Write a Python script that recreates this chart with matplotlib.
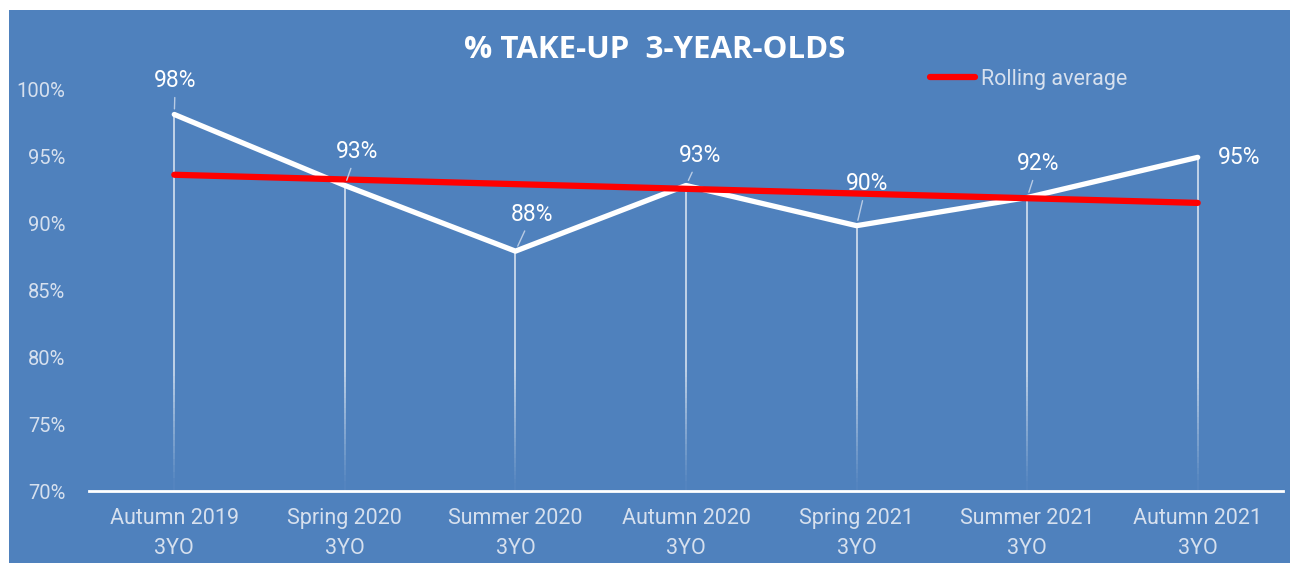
import numpy as np
import matplotlib
matplotlib.use('Agg')
from matplotlib import pyplot as plt
from matplotlib.patches import Rectangle
from matplotlib.collections import LineCollection

# chart data
categories = ['Autumn 2019\n3YO', 'Spring 2020\n3YO', 'Summer 2020\n3YO', 'Autumn 2020\n3YO',
              'Spring 2021\n3YO', 'Summer 2021\n3YO', 'Autumn 2021\n3YO']
take_up = [98.1, 92.8, 87.9, 92.8, 89.8, 91.9, 94.9]
labels = ['98%', '93%', '88%', '93%', '90%', '92%', '95%']
rolling = [93.6, 93.25, 92.9, 92.55, 92.2, 91.85, 91.5]
yticks = [70, 75, 80, 85, 90, 95, 100]

# label offsets in pixels (dx, dy) and whether a leader line is shown
offsets = [(1, 34), (12, 34), (17, 37), (14, 30), (10, 42), (11, 34), (41, 0)]
leaders = [True, True, True, True, True, True, False]

bg = '#4F81BD'
light = '#D6E0EE'
plt.rcParams['font.family'] = ['Roboto', 'DejaVu Sans']

fig = plt.figure(figsize=(12.9, 5.63), dpi=100, facecolor='w')
# blue panel with thin white margin on the left/top
fig.patches.append(Rectangle((9/1290, 0), 1 - 9/1290, 1 - 10/563, transform=fig.transFigure,
                             facecolor=bg, edgecolor='none', zorder=-10))

ax = fig.add_axes([89/1290, 1 - 491/563, (1283 - 89)/1290, (491 - 89)/563])
ax.set_facecolor('none')
x = np.arange(len(categories))

# drop lines, fading out towards the axis
segs, cols = [], []
for xi, v in zip(x, take_up):
    ys = np.linspace(70, v, 60)
    for a, b in zip(ys[:-1], ys[1:]):
        segs.append([(xi, a), (xi, b)])
        alpha = 0.7 * min(1.0, max(0.05, (a - 70) / 9))
        cols.append((1, 1, 1, alpha))
ax.add_collection(LineCollection(segs, colors=cols, linewidths=1.3, zorder=1))

ax.plot(x, take_up, color='white', lw=3.8, solid_joinstyle='round',
        solid_capstyle='round', zorder=3)
ax.plot(x, rolling, color='#FF0000', lw=4.5, solid_capstyle='round', zorder=4,
        label='Rolling average')

for i in range(len(x)):
    dx, dy = offsets[i]
    ap = dict(arrowstyle='-', color='#B8CBE4', lw=1, shrinkA=2, shrinkB=4) if leaders[i] else None
    ax.annotate(labels[i], xy=(x[i], take_up[i]), xytext=(dx, dy), textcoords='offset pixels',
                ha='center', va='center', fontsize=16.5, color='white',
                arrowprops=ap, zorder=5, annotation_clip=False)

ax.set_xlim(-0.5, 6.5)
ax.set_ylim(70, 100)
ax.set_yticks(yticks)
ax.set_yticklabels([f'{v}%' for v in yticks])
ax.set_xticks(x)
ax.set_xticklabels(categories, linespacing=1.6)
ax.tick_params(axis='y', length=0, pad=17, labelsize=14.5, labelcolor=light)
ax.tick_params(axis='x', length=0, pad=12, labelsize=15.5, labelcolor=light)
for s in ['top', 'right', 'left']:
    ax.spines[s].set_visible(False)
ax.spines['bottom'].set_color('white')
ax.spines['bottom'].set_linewidth(2)

fig.text(655/1290, 1 - 50/563, '% TAKE-UP  3-YEAR-OLDS', ha='center', va='center',
         fontsize=22.5, fontweight='bold', color='white', family=['Open Sans', 'DejaVu Sans'])

leg = ax.legend(loc='center left', bbox_to_anchor=(930/1290, 1 - 79/563),
                bbox_transform=fig.transFigure, frameon=False, fontsize=15.5,
                handlelength=2.1, handletextpad=0.25, borderpad=0, borderaxespad=0)
for t in leg.get_texts():
    t.set_color(light)

plt.savefig('out.png', dpi=100, facecolor='w')
